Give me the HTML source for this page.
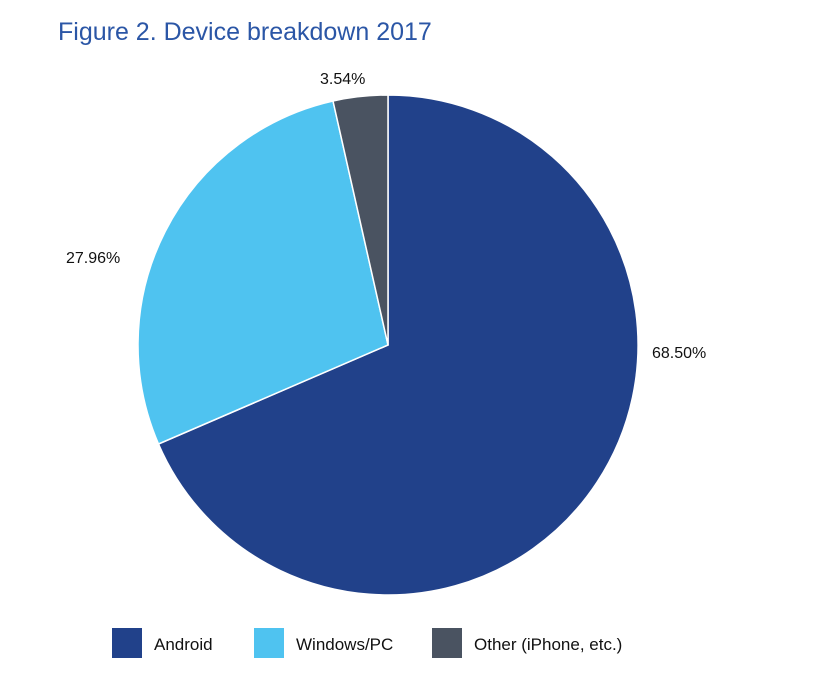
<!DOCTYPE html>
<html><head><style>
body{margin:0;width:818px;height:689px;background:#fff;overflow:hidden;font-family:"Liberation Sans",sans-serif}
</style></head><body>
<svg width="818" height="689" viewBox="0 0 818 689" xmlns="http://www.w3.org/2000/svg" font-family="Liberation Sans, sans-serif">
<text x="58" y="40" font-size="25" fill="#2b56a6">Figure 2. Device breakdown 2017</text>
<g stroke="#fff" stroke-width="1.5">
<path d="M388,345 L388,95 A250,250 0 1 1 158.5,444 Z" fill="#21418a"/>
<path d="M388,345 L158.5,444 A250,250 0 0 1 333,101 Z" fill="#4fc3f0"/>
<path d="M388,345 L333,101 A250,250 0 0 1 388,95 Z" fill="#4a5361"/>
</g>
<g font-size="16" fill="#111">
<text x="320" y="84">3.54%</text>
<text x="66" y="263">27.96%</text>
<text x="652" y="358">68.50%</text>
</g>
<rect x="112" y="628" width="30" height="30" fill="#21418a"/>
<text x="154" y="650" font-size="17" fill="#111">Android</text>
<rect x="254" y="628" width="30" height="30" fill="#4fc3f0"/>
<text x="296" y="650" font-size="17" fill="#111">Windows/PC</text>
<rect x="432" y="628" width="30" height="30" fill="#4a5361"/>
<text x="474" y="650" font-size="17" fill="#111">Other (iPhone, etc.)</text>
</svg>
</body></html>
